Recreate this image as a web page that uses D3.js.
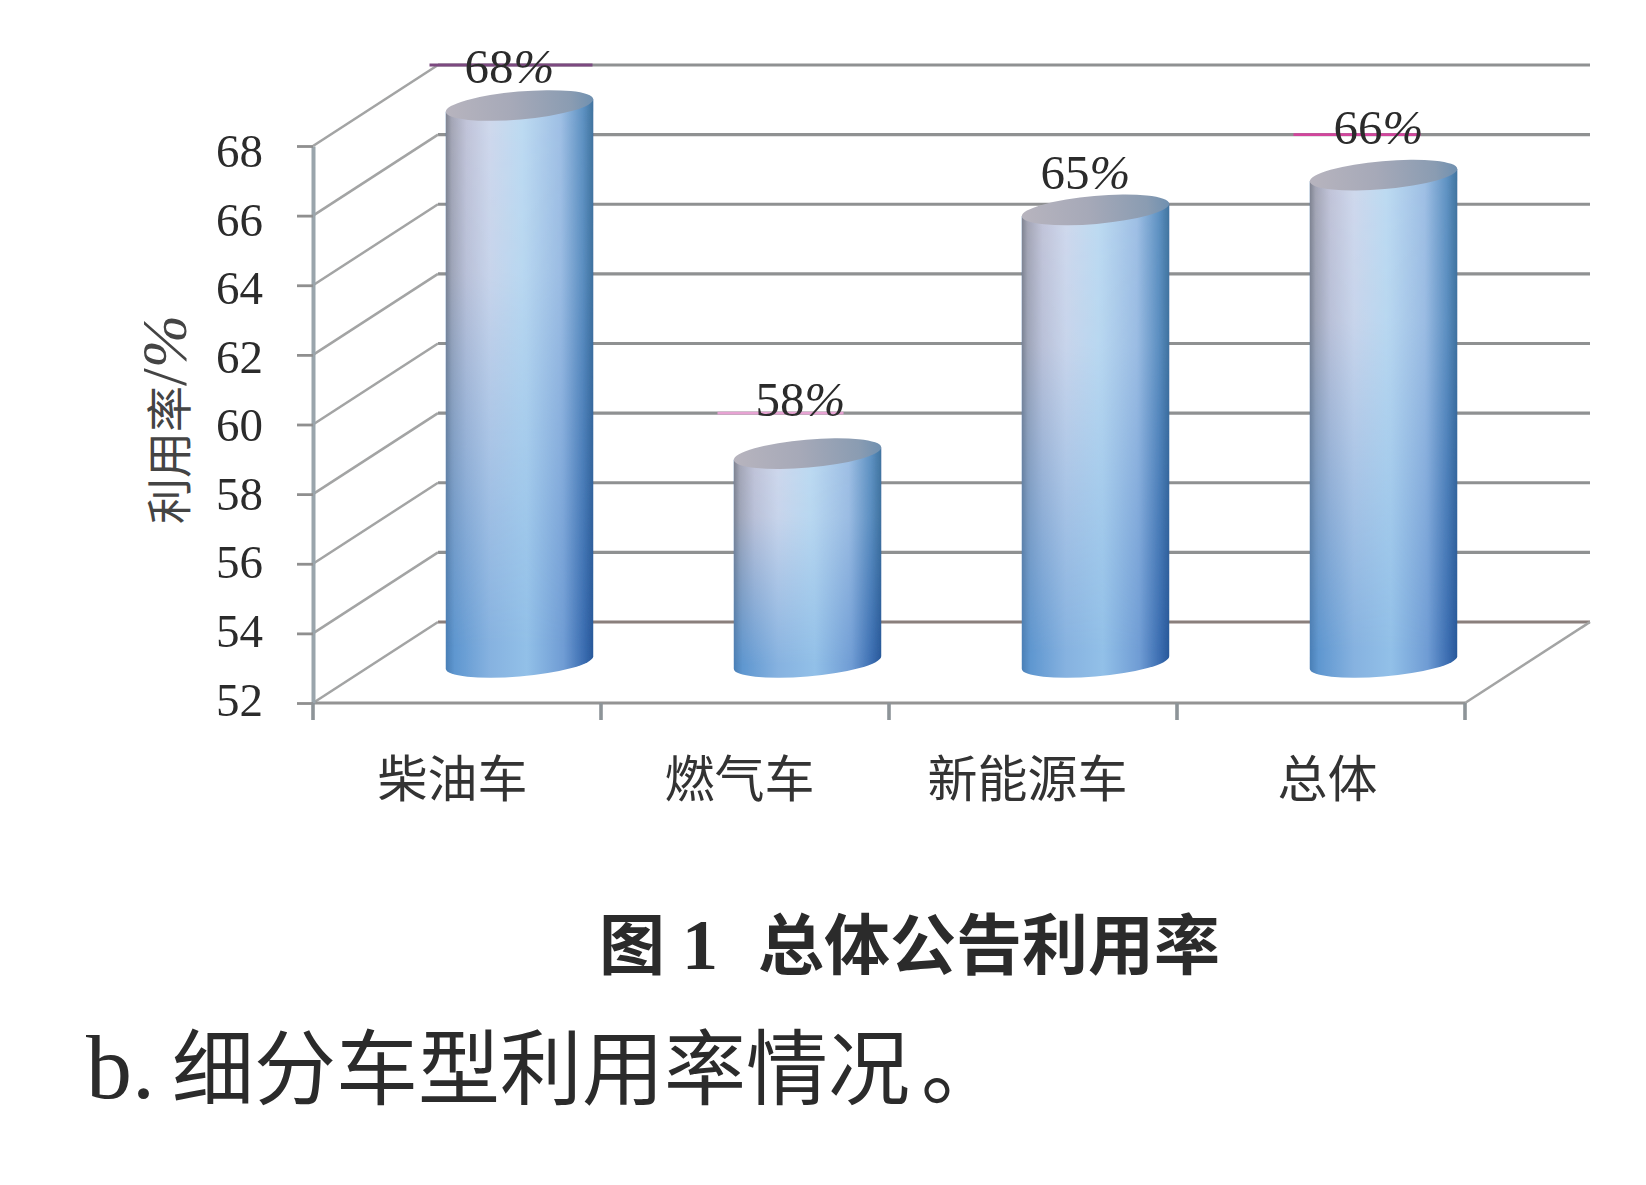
<!DOCTYPE html>
<html>
<head>
<meta charset="utf-8">
<script src="https://cdn.jsdelivr.net/npm/d3@7"></script>
<style>
  html, body { margin: 0; padding: 0; background: #fff; }
  text { fill: #2b2b2b; }
  .num { font-family: "Liberation Serif", serif; }
  .cjk { font-family: "Noto Sans CJK SC", sans-serif; }
</style>
</head>
<body>
<div id="chart"></div>
<script>
// data
var categories = ["柴油车", "燃气车", "新能源车", "总体"];
var values = [68, 58, 65, 66];
var yTicks = [52, 54, 56, 58, 60, 62, 64, 66, 68];
var hasLeader = [true, true, false, true];

// set the dimensions of the page and the fake 3d box
var width = 1646, height = 1185;
var depthX = 125, depthY = -81;
var barWidth = 148, ellipseRy = 14, ellipseRot = -5;

var svg = d3.select("#chart").append("svg")
    .attr("width", width)
    .attr("height", height)
    .style("display", "block");

var defs = svg.append("defs");

function addGradient(id, stops, vertical) {
    var g = defs.append("linearGradient").attr("id", id)
        .attr("x1", 0).attr("y1", 0)
        .attr("x2", vertical ? 0 : 1).attr("y2", vertical ? 1 : 0);
    stops.forEach(function (s) {
        g.append("stop").attr("offset", s[0]).attr("stop-color", s[1]);
    });
}

// upper and lower colouring of the cylinder, mixed with a vertical mask
addGradient("sideTop", [[0, "#7f828f"], [0.04, "#a5a6b5"], [0.14, "#c2c4d8"], [0.3, "#cfd8ec"], [0.52, "#bddaf1"],
    [0.78, "#9fbfe4"], [0.93, "#5f92c2"], [1, "#41749f"]]);
addGradient("sideBottom", [[0, "#4a7fb6"], [0.06, "#5f97d0"], [0.3, "#86b2e0"], [0.55, "#92c0e8"],
    [0.8, "#6f9cd4"], [0.94, "#3a6cb0"], [1, "#28589a"]]);
addGradient("fade", [[0, "#fff"], [0.3, "#e4e4e4"], [0.95, "#000"]], true);
addGradient("cap", [[0, "#b7b4be"], [0.45, "#a6a9b8"], [0.85, "#8a9cb2"], [1, "#6f90b0"]]);

defs.append("mask").attr("id", "fadeMask")
    .attr("maskContentUnits", "objectBoundingBox")
    .append("rect").attr("width", 1).attr("height", 1).attr("fill", "url(#fade)");

defs.append("filter").attr("id", "soft")
    .attr("filterUnits", "userSpaceOnUse")
    .attr("x", 0).attr("y", 0).attr("width", width).attr("height", height)
    .append("feGaussianBlur").attr("stdDeviation", 0.7);

// scales: y is the front plane of the box, x the front floor edge
var y = d3.scaleLinear().domain([52, 68]).range([703, 146]);
var yText = d3.scaleLinear().domain([52, 68]).range([700, 151.5]);
var x = d3.scaleBand().domain(categories).range([313, 1465]);
var xText = d3.scaleOrdinal().domain(categories).range([452, 739, 1027, 1327]);

var grid = svg.append("g").attr("filter", "url(#soft)");

// back wall lines
grid.selectAll(".wall").data(yTicks).enter().append("line")
    .attr("x1", x.range()[0] + depthX)
    .attr("x2", x.range()[1] + depthX)
    .attr("y1", function (d) { return y(d) + depthY; })
    .attr("y2", function (d) { return y(d) + depthY; })
    .attr("stroke", function (d) { return d === 52 ? "#8a7f7b" : "#8f9192"; })
    .attr("stroke-width", 3.2);

// side wall lines
grid.selectAll(".side").data(yTicks).enter().append("line")
    .attr("x1", x.range()[0])
    .attr("x2", x.range()[0] + depthX)
    .attr("y1", function (d) { return y(d); })
    .attr("y2", function (d) { return y(d) + depthY; })
    .attr("stroke", "#a3a4a4")
    .attr("stroke-width", 2.6);

// floor edges
grid.append("line")
    .attr("x1", x.range()[1]).attr("x2", x.range()[1] + depthX)
    .attr("y1", y(52)).attr("y2", y(52) + depthY)
    .attr("stroke", "#a3a4a4").attr("stroke-width", 2.6);
grid.append("line")
    .attr("x1", x.range()[0]).attr("x2", x.range()[1])
    .attr("y1", y(52)).attr("y2", y(52))
    .attr("stroke", "#949494").attr("stroke-width", 3.2);

// y axis, tick marks only
var yAxis = grid.append("g")
    .attr("transform", "translate(" + x.range()[0] + ",0)")
    .call(d3.axisLeft(y).tickValues(yTicks).tickSize(16).tickSizeOuter(0).tickFormat(""));
yAxis.select(".domain").attr("stroke", "#9aa5ac").attr("stroke-width", 4);
yAxis.selectAll(".tick line").attr("stroke", "#8f8f8f").attr("stroke-width", 2.8);

// x axis ticks sit between the categories
var xBreaks = categories.map(function (c) { return x(c); }).concat([x.range()[1]]);
grid.selectAll(".xtick").data(xBreaks).enter().append("line")
    .attr("x1", function (d) { return d; })
    .attr("x2", function (d) { return d; })
    .attr("y1", y(52))
    .attr("y2", y(52) + 17)
    .attr("stroke", "#8d9498")
    .attr("stroke-width", 3.6);

// leaders behind the value labels
var leaderColor = ["#7b4a80", "#e7a3d3", null, "#d2459c"];
var leaderEnd = [73, 36, 0, 37];
function barX(i) { return x(categories[i]) + x.bandwidth() / 2 + depthX / 2; }
grid.selectAll(".leader").data(values).enter().append("line")
    .filter(function (d, i) { return hasLeader[i]; })
    .attr("x1", function (d) { return barX(values.indexOf(d)) - 90; })
    .attr("x2", function (d) { return barX(values.indexOf(d)) + leaderEnd[values.indexOf(d)]; })
    .attr("y1", function (d) { return y(d) + depthY; })
    .attr("y2", function (d) { return y(d) + depthY; })
    .attr("stroke", function (d) { return leaderColor[values.indexOf(d)]; })
    .attr("stroke-width", 2.8);

// cylinders
var rad = ellipseRot * Math.PI / 180;
var tanX = Math.sqrt(Math.pow(barWidth / 2 * Math.cos(rad), 2) + Math.pow(ellipseRy * Math.sin(rad), 2));
var rx = barWidth / 2;
var tanY = (rx * rx - ellipseRy * ellipseRy) * Math.sin(-rad) * Math.cos(rad) / tanX;

function sidePath(d, i) {
    var cx = barX(i), top = y(d) + depthY / 2, base = y(52) + depthY / 2;
    return "M" + (cx - tanX) + "," + (top + tanY) +
        "L" + (cx - tanX) + "," + (base + tanY) +
        "A" + rx + "," + ellipseRy + " " + ellipseRot + " 0 0 " + (cx + tanX) + "," + (base - tanY) +
        "L" + (cx + tanX) + "," + (top - tanY) + "Z";
}

var bars = svg.append("g").attr("filter", "url(#soft)")
    .selectAll("g").data(values).enter().append("g");
bars.append("path").attr("d", sidePath).attr("fill", "url(#sideBottom)");
bars.append("path").attr("d", sidePath).attr("fill", "url(#sideTop)").attr("mask", "url(#fadeMask)");
bars.append("ellipse")
    .attr("rx", rx).attr("ry", ellipseRy)
    .attr("transform", function (d, i) {
        return "translate(" + barX(i) + "," + (y(d) + depthY / 2) + ") rotate(" + ellipseRot + ")";
    })
    .attr("fill", "url(#cap)");

// value labels
var labelDx = [-55, -52, -55, -50];
var labelDy = [18, 3, 20, 9];
var labels = svg.selectAll(".value").data(values).enter().append("text")
    .attr("class", "num")
    .attr("x", function (d, i) { return barX(i) + labelDx[i]; })
    .attr("y", function (d, i) { return y(d) + depthY + labelDy[i]; })
    .attr("font-size", 49);
labels.append("tspan").text(function (d) { return d; });
labels.append("tspan").attr("font-style", "italic").text("%");

// y tick labels
var yLabels = svg.append("g")
    .attr("transform", "translate(" + x.range()[0] + ",0)")
    .call(d3.axisLeft(yText).tickValues(yTicks).tickSize(0).tickPadding(50));
yLabels.select(".domain").remove();
yLabels.selectAll("text").attr("class", "num").attr("font-size", 47)
    .style("font-family", "'Liberation Serif', serif").style("fill", "#2b2b2b");

// category labels
var xLabels = svg.append("g")
    .attr("transform", "translate(0,761)")
    .call(d3.axisBottom(xText).tickSize(0).tickPadding(0));
xLabels.select(".domain").remove();
xLabels.selectAll("text").attr("font-size", 50)
    .style("font-family", "'Noto Sans CJK SC', sans-serif").style("fill", "#333");

// y axis title
var yTitle = svg.append("text")
    .attr("transform", "translate(186,524) rotate(-90)")
    .attr("font-size", 46);
yTitle.append("tspan").attr("class", "cjk").style("fill", "#444").text("利用率");
yTitle.append("tspan").attr("class", "num").style("fill", "#444").attr("font-size", 64).text("/");
yTitle.append("tspan").attr("class", "num").style("fill", "#444").attr("font-size", 64).attr("font-style", "italic").text("%");

// caption and the following line of the article
var caption = svg.append("text").attr("y", 969).attr("font-size", 66).attr("font-weight", 700).attr("class", "cjk");
caption.append("tspan").attr("x", 599).text("图");
caption.append("tspan").attr("x", 682).attr("class", "num").attr("font-size", 72).text("1");
caption.append("tspan").attr("x", 758).text("总体公告利用率");

var bodyLine = svg.append("text").attr("y", 1098).attr("font-size", 82);
bodyLine.append("tspan").attr("x", 86).attr("class", "num").attr("font-size", 92).text("b.");
bodyLine.append("tspan").attr("x", 172).attr("class", "cjk").text("细分车型利用率情况");
bodyLine.append("tspan").attr("x", 921).attr("class", "cjk").text("。");
</script>
</body>
</html>
